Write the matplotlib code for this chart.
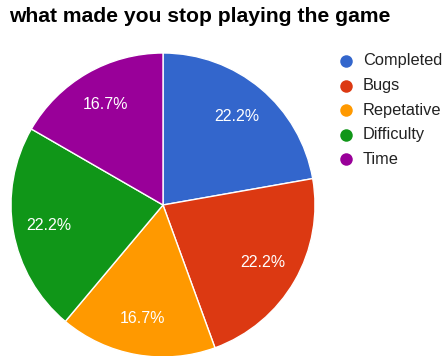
import matplotlib
matplotlib.use("Agg")
import matplotlib.pyplot as plt

categories = ["Completed", "Bugs", "Repetative", "Difficulty", "Time"]
counts = [4, 4, 3, 4, 3]
colors = ["#3366cc", "#dc3912", "#ff9900", "#109618", "#990099"]

W, H = 447, 356
fig = plt.figure(figsize=(W / 100, H / 100), dpi=100)
ax = fig.add_axes([0, 0, 1, 1])
ax.set_xlim(0, W)
ax.set_ylim(0, H)
ax.set_aspect("equal")
ax.axis("off")

cx, cy, r = 163, H - 205, 152
wedges, texts, autotexts = ax.pie(
    counts, colors=colors, startangle=90, counterclock=False,
    center=(cx, cy), radius=r, autopct="%.1f%%", pctdistance=0.76,
    wedgeprops=dict(edgecolor="white", linewidth=1),
    textprops=dict(color="white", fontsize=11.5, family="Liberation Sans"),
)
ax.set_xlim(0, W)
ax.set_ylim(0, H)

fig.text(9 / W, 1 - 17 / H, "what made you stop playing the game",
         fontsize=15.2, fontweight="bold", family="Liberation Sans",
         color="#000000", va="center", ha="left")

# legend drawn as markers and labels in a column on the right
for i, (name, col) in enumerate(zip(categories, colors)):
    y = H - (61 + i * 24.6)
    ax.plot([346], [y], marker="o", markersize=9, color=col, markeredgewidth=0)
    ax.text(363, y, name, fontsize=11.8, family="Liberation Sans",
            color="#222222", va="center", ha="left")

fig.savefig("out.png", dpi=100)
